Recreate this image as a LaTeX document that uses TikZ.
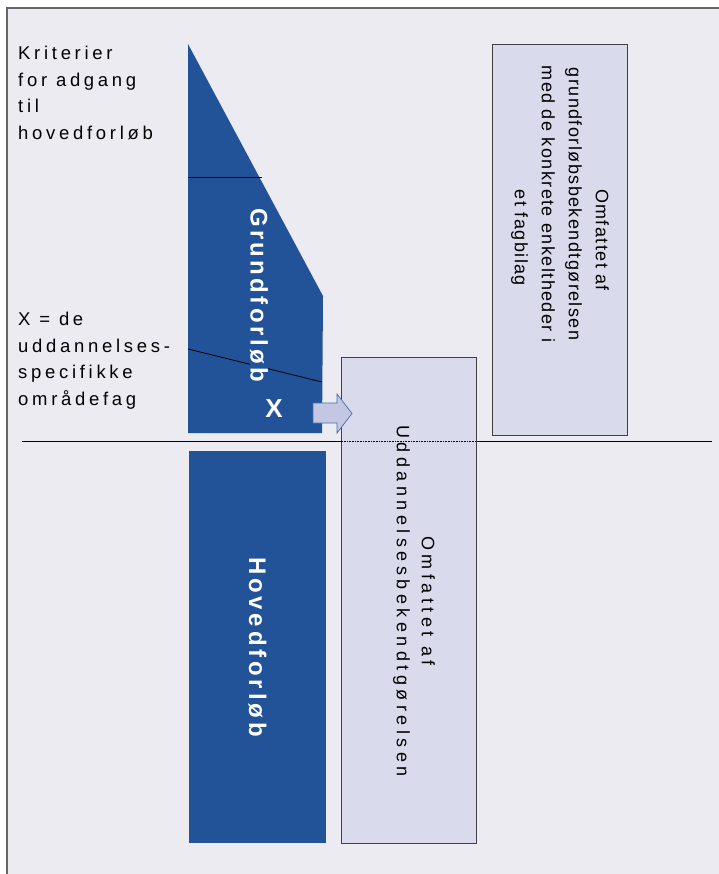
\documentclass[tikz,border=0pt]{standalone}
\usepackage{fontspec}
\setmainfont{Liberation Sans}
\newfontfamily\sidefont[LetterSpace=20]{Liberation Sans}
\newfontfamily\grundbarfont[LetterSpace=14]{Liberation Sans}
\newfontfamily\hovedbarfont[LetterSpace=16]{Liberation Sans}
\newfontfamily\uddfont[LetterSpace=25]{Liberation Sans}
\newfontfamily\grundfont[LetterSpace=8]{Liberation Sans}

\definecolor{bgcol}{RGB}{236,235,242}
\definecolor{dkblue}{RGB}{34,82,152}
\definecolor{boxcol}{RGB}{217,218,236}
\definecolor{arrowcol}{RGB}{196,199,226}
\definecolor{arrowedge}{RGB}{70,110,175}

\tikzset{
  bluebar/.style={fill=dkblue, inner sep=0pt, text=white},
  lightbox/.style={fill=boxcol, draw=black!75, line width=0.8pt, inner sep=0pt},
  sidetext/.style={align=left, anchor=north west, inner sep=0pt,
    font=\sidefont\fontsize{18.5}{26.5}\selectfont},
  boxtext/.style={align=center, inner sep=0pt, rotate=-90}
}

\begin{document}
\begin{tikzpicture}[x=1pt, y=-1pt]
\useasboundingbox (0,0) rectangle (718,874);
% frame
\fill[white] (0,0) rectangle (718,874);
\draw[fill=bgcol, draw=black!60, line width=1.2pt] (7,8) rectangle (740,900);

% grundforloeb
\fill[dkblue] (188,44) -- (323,296) -- (322,433) -- (188,433) -- cycle;
\draw[line width=0.8pt] (188,177) -- (262,177);
\draw[line width=0.8pt] (188,349) -- (322,382);
\node[bluebar, rotate=-90, font=\grundbarfont\bfseries\fontsize{24}{24}\selectfont] (grund) at (259,295) {Grundforløb};
\node[bluebar, font=\bfseries\fontsize{26}{26}\selectfont] (xmark) at (274,408.5) {X};

% hovedforloeb
\node[bluebar, rotate=-90, minimum width=392, minimum height=137,
  font=\hovedbarfont\bfseries\fontsize{24}{24}\selectfont] (hoved) at (257.5,647) {Hovedforløb};

% skillelinje
\coordinate (hl) at (22,441);
\coordinate (hr) at (712,441);
\draw[line width=0.8pt] (hl) -- (hr);

% bekendtgoerelser
\node[lightbox, minimum width=135, minimum height=486] (udd) at (408.5,600) {};
\draw[densely dotted, line width=0.6pt] (udd.west |- hl) -- (udd.east |- hl);
\node[boxtext, font=\uddfont\fontsize{18}{25}\selectfont] (uddtext) at (414,601)
  {Omfattet af\\Uddannelsesbekendtgørelsen};
\node[lightbox, minimum width=135, minimum height=391] (grundbek) at (559.5,239.5) {};
\node[boxtext, font=\grundfont\fontsize{18}{27}\selectfont] (grundtext) at (560,204)
  {\hspace*{72pt}Omfattet af\\grundforløbsbekendtgørelsen\\med de konkrete enkeltheder i\\\hspace*{68pt}et fagbilag};

% pil
\draw[fill=arrowcol, draw=arrowedge, line width=0.7pt]
  (313,403) -- (337,403) -- (337,394) -- (352,413.5) -- (337,433) -- (337,423) -- (313,423) -- cycle;

% tekster til venstre
\node[sidetext] (kriterier) at (18,46) {Kriterier\\for adgang\\til\\hovedforløb};
\node[sidetext] (xtekst) at (18,312) {X = de\\uddannelses-\\specifikke\\områdefag};
\end{tikzpicture}
\end{document}
